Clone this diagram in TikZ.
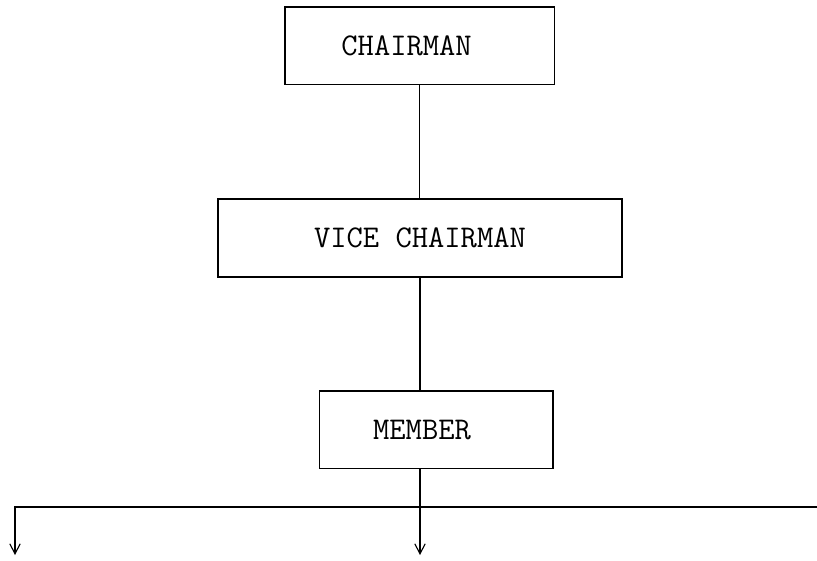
\documentclass[tikz,border=0pt]{standalone}
\usepackage{fontspec}
\usetikzlibrary{positioning, arrows, arrows.meta}
\tikzset{
    >={Straight Barb[length=2.5mm,width=2.6mm]}, % Thin open arrowheads
    every path/.style={line width=0.8pt}, % Same weight for all lines
    post/.style={draw, line width=0.8pt, font=\ttfamily\fontsize{22.5}{26}\selectfont}, % Boxes of the chart
}

\begin{document}
\begin{tikzpicture}
  \useasboundingbox (0,0) rectangle (20.425,-14.025);

  \node[post, minimum width=6.73cm, minimum height=1.93cm] (chair) at (10.49,-1.14) {CHAIRMAN\hspace*{0.65cm}};
  \node[post, minimum width=10.1cm, minimum height=1.95cm] (vice) at (10.5,-5.95) {VICE CHAIRMAN};
  \node[post, minimum width=5.83cm, minimum height=1.93cm] (member) at (10.91,-10.74) {MEMBER\hspace*{0.72cm}};
  \draw (chair.south) -- (chair.south |- vice.north);
  \draw (vice.south) -- (vice.south |- member.north);

  \coordinate (bus) at (10.5,-12.675);
  \coordinate (busl) at (0.375,-12.675);
  \coordinate (busr) at (20.425,-12.675);
  \coordinate (outl) at (0.375,-13.875);
  \coordinate (outm) at (10.5,-13.875);
  \draw[->] (vice.south |- member.south) -- (outm);
  \draw[->] (busr) -- (busl) -- (outl);
\end{tikzpicture}
\end{document}
